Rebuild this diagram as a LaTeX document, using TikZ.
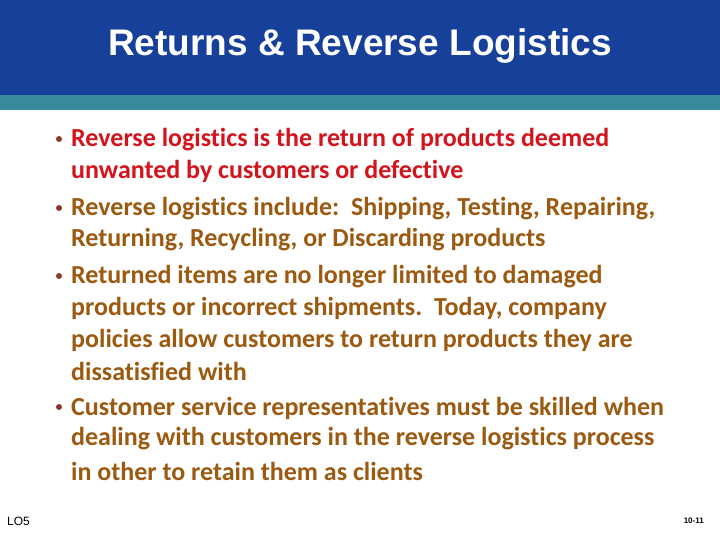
\documentclass[tikz,border=0pt]{standalone}
\usepackage{fontspec}
\setmainfont{Carlito}[Ligatures={NoCommon}]
\newfontfamily\ttl{Liberation Sans}
\definecolor{bandblue}{HTML}{16409A}
\definecolor{bandteal}{HTML}{3A8A9E}
\definecolor{redtxt}{HTML}{D4141C}
\definecolor{browntxt}{HTML}{9C5A10}
\definecolor{bul}{HTML}{8B3A2A}
\begin{document}
\begin{tikzpicture}[x=1pt,y=-1pt,
  ln/.style={anchor=west,inner sep=0pt,font=\fontsize{26}{28}\selectfont\bfseries},
  bt/.style={circle,fill=bul,inner sep=0pt,minimum size=6pt}]
\useasboundingbox (0,0) rectangle (720,540);
\fill[white] (0,0) rectangle (720,540);
\fill[bandblue] (0,0) rectangle (720,95);
\fill[bandteal] (0,95) rectangle (720,110);
\node[text=white,font=\ttl\fontsize{37}{39}\selectfont\bfseries] (title) at (360,46) {Returns \& Reverse Logistics};
\node[bt] (b1) at (59,139) {};
\node[bt] (b2) at (59,208) {};
\node[bt] (b3) at (59,276) {};
\node[bt] (b4) at (59,407) {};
\begin{scope}[every node/.style={ln}]
\node[text=redtxt] (l1) at (71,140) {Reverse logistics is the return of products deemed};
\node[text=redtxt] (l2) at (71,171) {unwanted by customers or defective};
\node[text=browntxt] (l3) at (71,209) {Reverse logistics include:\ \ Shipping, Testing, Repairing,};
\node[text=browntxt] (l4) at (71,240) {Returning, Recycling, or Discarding products};
\node[text=browntxt] (l5) at (71,277) {Returned items are no longer limited to damaged};
\node[text=browntxt] (l6) at (71,308) {products or incorrect shipments.\ \ Today, company};
\node[text=browntxt] (l7) at (71,340) {policies allow customers to return products they are};
\node[text=browntxt] (l8) at (71,371) {dissatisfied with};
\node[text=browntxt] (l9) at (71,408) {Customer service representatives must be skilled when};
\node[text=browntxt] (l10) at (71,439) {dealing with customers in the reverse logistics process};
\node[text=browntxt] (l11) at (71,471) {in other to retain them as clients};
\end{scope}
\node[anchor=west,inner sep=0pt,font=\ttl\fontsize{12}{13}\selectfont] (lo) at (7,521) {LO5};
\node[anchor=east,inner sep=0pt,font=\ttl\fontsize{8}{9}\selectfont\bfseries] (pg) at (704,521) {10-11};
\end{tikzpicture}
\end{document}
